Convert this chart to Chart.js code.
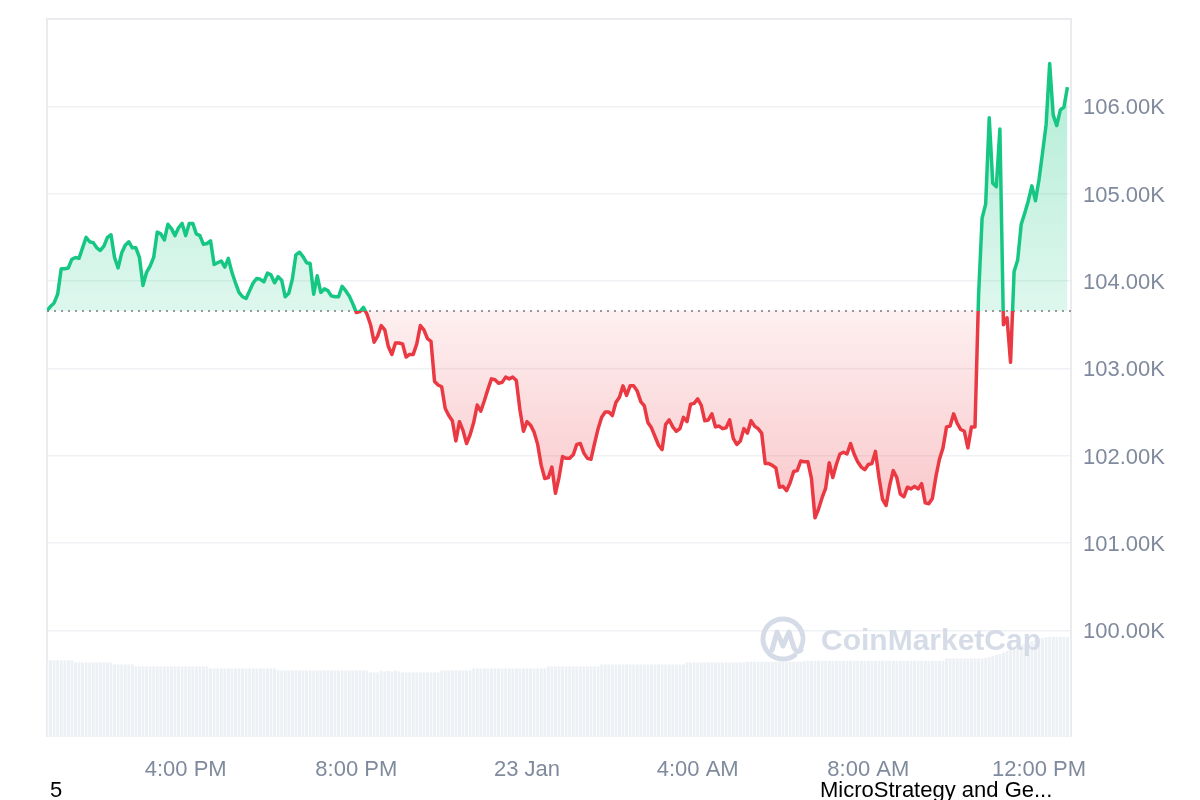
<!DOCTYPE html>
<html>
<head>
<meta charset="utf-8">
<script src="https://cdn.jsdelivr.net/npm/chart.js@4.4.1/dist/chart.umd.min.js"></script>
<style>
  html, body { margin: 0; padding: 0; background: #fff; }
  #wrap { position: relative; width: 1200px; height: 800px; }
</style>
</head>
<body>
<div id="wrap"><canvas id="chart" width="1200" height="800"></canvas></div>
<script>
// 24h of 5-minute points, starting 12:45 PM on 22 Jan (minutes since midnight 22 Jan)
const startMinute = 765;
const stepMinutes = 5;

// BTC price, thousands of USD
const priceK = [
  103.66, 103.71, 103.75, 103.85, 104.14, 104.14, 104.15, 104.25, 104.27, 104.26, 104.38, 104.50,
  104.45, 104.44, 104.38, 104.35, 104.40, 104.50, 104.53, 104.27, 104.15, 104.32, 104.41, 104.45,
  104.38, 104.38, 104.27, 103.95, 104.10, 104.17, 104.27, 104.56, 104.54, 104.47, 104.65, 104.60,
  104.52, 104.61, 104.66, 104.52, 104.66, 104.66, 104.54, 104.52, 104.42, 104.43, 104.46, 104.19,
  104.21, 104.23, 104.16, 104.26, 104.10, 103.98, 103.87, 103.82, 103.80, 103.89, 103.98, 104.03,
  104.02, 103.99, 104.09, 104.07, 103.98, 104.05, 104.01, 103.82, 103.86, 104.02, 104.30, 104.33,
  104.28, 104.21, 104.20, 103.85, 104.06, 103.87, 103.91, 103.89, 103.83, 103.82, 103.82, 103.94,
  103.89, 103.83, 103.74, 103.64, 103.65, 103.70, 103.62, 103.50, 103.30, 103.37, 103.49, 103.44,
  103.25, 103.16, 103.29, 103.29, 103.28, 103.13, 103.16, 103.16, 103.28, 103.49, 103.44, 103.34,
  103.31, 102.85, 102.81, 102.79, 102.54, 102.46, 102.40, 102.17, 102.39, 102.29, 102.14, 102.24,
  102.38, 102.58, 102.51, 102.63, 102.76, 102.88, 102.87, 102.83, 102.84, 102.90, 102.88, 102.90,
  102.86, 102.53, 102.28, 102.39, 102.35, 102.27, 102.13, 101.89, 101.74, 101.75, 101.87, 101.57,
  101.75, 101.99, 101.97, 101.97, 102.01, 102.13, 102.14, 102.03, 101.97, 101.96, 102.14, 102.31,
  102.44, 102.50, 102.50, 102.46, 102.61, 102.67, 102.80, 102.69, 102.80, 102.80, 102.74, 102.62,
  102.57, 102.38, 102.32, 102.22, 102.12, 102.07, 102.36, 102.41, 102.33, 102.28, 102.31, 102.44,
  102.39, 102.59, 102.60, 102.65, 102.58, 102.40, 102.41, 102.48, 102.33, 102.34, 102.31, 102.32,
  102.41, 102.20, 102.13, 102.17, 102.31, 102.26, 102.40, 102.34, 102.31, 102.26, 101.91, 101.91,
  101.89, 101.86, 101.64, 101.65, 101.60, 101.69, 101.82, 101.83, 101.94, 101.93, 101.93, 101.74,
  101.29, 101.39, 101.52, 101.63, 101.92, 101.75, 101.90, 102.02, 102.04, 102.02, 102.14, 102.02,
  101.93, 101.87, 101.84, 101.90, 101.91, 102.05, 101.75, 101.50, 101.43, 101.66, 101.83, 101.75,
  101.56, 101.53, 101.64, 101.62, 101.65, 101.62, 101.68, 101.46, 101.45, 101.51, 101.76, 101.96,
  102.09, 102.33, 102.34, 102.48, 102.37, 102.30, 102.28, 102.09, 102.33, 102.33, 103.83, 104.72,
  104.88, 105.87, 105.12, 105.08, 105.74, 103.50, 103.58, 103.07, 104.11, 104.24, 104.65, 104.78,
  104.92, 105.09, 104.92, 105.16, 105.47, 105.79, 106.49, 105.90, 105.78, 105.96, 105.99, 106.22
];

// 24h volume, billions of USD
const volumeB = [
  59.8, 59.8, 59.8, 59.8, 59.8, 59.8, 59.8, 59.8, 58.2, 58.2, 58.2, 58.2,
  58.2, 58.2, 58.2, 58.2, 58.2, 58.2, 58.2, 56.6, 56.6, 56.6, 56.6, 56.6,
  56.6, 55.1, 55.1, 55.1, 55.1, 55.1, 55.1, 55.1, 55.1, 55.1, 55.1, 55.1,
  55.1, 55.1, 55.1, 55.1, 55.1, 55.1, 55.1, 55.1, 55.1, 55.1, 53.5, 53.5,
  53.5, 53.5, 53.5, 53.5, 53.5, 53.5, 53.5, 53.5, 53.5, 53.5, 53.5, 53.5,
  53.5, 53.5, 53.5, 53.5, 53.5, 52.0, 52.0, 52.0, 52.0, 52.0, 52.0, 52.0,
  52.0, 52.0, 52.0, 52.0, 52.0, 52.0, 52.0, 52.0, 52.0, 52.0, 52.0, 52.0,
  52.0, 52.0, 52.0, 52.0, 52.0, 52.0, 52.0, 50.4, 50.4, 50.4, 51.6, 51.2,
  51.7, 51.0, 51.8, 51.3, 50.4, 50.4, 50.4, 50.4, 50.4, 50.4, 50.4, 50.4,
  50.4, 50.4, 50.4, 52.0, 52.0, 52.0, 52.0, 52.0, 52.0, 52.0, 52.0, 52.0,
  53.5, 53.5, 53.5, 53.5, 53.5, 53.5, 53.5, 53.5, 53.5, 53.5, 53.5, 53.5,
  53.5, 53.5, 53.5, 53.5, 53.5, 53.5, 53.5, 53.5, 53.5, 55.1, 55.1, 55.1,
  55.1, 55.1, 55.1, 55.1, 55.1, 55.1, 55.1, 55.1, 55.1, 55.1, 55.1, 55.1,
  56.6, 56.6, 56.6, 56.6, 56.6, 56.6, 56.6, 56.6, 56.6, 56.6, 56.6, 56.6,
  56.6, 56.6, 56.6, 56.6, 56.6, 56.6, 56.6, 56.6, 56.6, 56.6, 56.6, 56.6,
  58.2, 58.2, 58.2, 58.2, 58.2, 58.2, 58.2, 58.2, 58.2, 58.2, 58.2, 58.2,
  58.2, 58.2, 58.2, 58.2, 58.2, 58.7, 58.7, 58.7, 58.7, 58.7, 58.7, 58.7,
  58.7, 58.7, 58.7, 58.7, 58.7, 58.7, 58.7, 58.7, 58.7, 59.4, 59.4, 59.4,
  59.4, 59.4, 59.4, 59.4, 59.4, 59.4, 59.4, 59.4, 59.4, 59.4, 59.4, 59.4,
  59.4, 59.4, 59.4, 59.4, 59.4, 59.4, 59.4, 59.4, 59.4, 59.4, 59.4, 59.4,
  59.4, 59.4, 59.4, 59.4, 59.4, 59.4, 59.4, 59.4, 59.4, 59.4, 59.4, 59.4,
  59.4, 61.3, 61.3, 61.3, 61.3, 61.3, 61.3, 61.3, 61.3, 61.3, 61.3, 61.3,
  61.8, 62.4, 63.0, 63.9, 64.8, 65.8, 66.9, 68.0, 69.2, 70.4, 71.6, 72.8,
  73.9, 75.0, 75.9, 76.7, 77.3, 77.8, 78.1, 78.1, 78.1, 78.1, 78.1, 78.1
];

const tickMinutes = [960, 1200, 1440, 1680, 1920, 2160];
const tickLabels = ['4:00 PM', '8:00 PM', '23 Jan', '4:00 AM', '8:00 AM', '12:00 PM'];
const priceTicks = [100, 101, 102, 103, 104, 105, 106];
const newsLabels = ['5', 'MicroStrategy and Ge...'];

const GREEN = '#16c784';
const RED = '#ea3943';
const FONT = '"Liberation Sans", Arial, sans-serif';
const basePrice = priceK[0];

function baseFrac(chart) {
  const a = chart.chartArea;
  return (chart.scales.y.getPixelForValue(basePrice) - a.top) / (a.bottom - a.top);
}

function lineColor(c) {
  const chart = c.chart;
  const a = chart.chartArea;
  if (!a) return GREEN;
  const f = baseFrac(chart);
  const g = chart.ctx.createLinearGradient(0, a.top, 0, a.bottom);
  g.addColorStop(0, GREEN);
  g.addColorStop(f, GREEN);
  g.addColorStop(f, RED);
  g.addColorStop(1, RED);
  return g;
}

function areaColor(c) {
  const chart = c.chart;
  const a = chart.chartArea;
  if (!a) return 'rgba(22,199,132,0.15)';
  const f = baseFrac(chart);
  const g = chart.ctx.createLinearGradient(0, a.top, 0, a.bottom);
  g.addColorStop(0, 'rgba(22,199,132,0.36)');
  g.addColorStop(f, 'rgba(22,199,132,0.14)');
  g.addColorStop(f, 'rgba(234,57,67,0.08)');
  g.addColorStop(1, 'rgba(234,57,67,0.50)');
  return g;
}

const decor = {
  id: 'decor',
  beforeDatasetsDraw(chart) {
    const { ctx, chartArea: a, scales } = chart;
    ctx.save();
    ctx.strokeStyle = '#e9ebee';
    ctx.lineWidth = 2;
    ctx.beginPath();
    ctx.moveTo(a.left, a.bottom);
    ctx.lineTo(a.left, a.top);
    ctx.lineTo(a.right, a.top);
    ctx.lineTo(a.right, a.bottom);
    ctx.stroke();

    // reference line at the opening price
    const y = Math.round(scales.y.getPixelForValue(basePrice));
    ctx.strokeStyle = '#999';
    ctx.lineWidth = 2;
    ctx.setLineDash([2, 5]);
    ctx.beginPath();
    ctx.moveTo(a.left, y);
    ctx.lineTo(a.right, y);
    ctx.stroke();
    ctx.restore();
  },
  afterDatasetsDraw(chart) {
    const ctx = chart.ctx;
    ctx.save();
    // watermark
    ctx.strokeStyle = '#d6dce7';
    ctx.fillStyle = '#d6dce7';
    ctx.lineWidth = 5;
    ctx.lineCap = 'round';
    ctx.lineJoin = 'round';
    ctx.beginPath();
    ctx.arc(783, 639, 20, Math.PI * 0.3, Math.PI * 2.15);
    ctx.stroke();
    ctx.beginPath();
    ctx.moveTo(772, 650);
    ctx.lineTo(777, 632);
    ctx.lineTo(783, 646);
    ctx.lineTo(789, 632);
    ctx.lineTo(794, 648);
    ctx.quadraticCurveTo(797, 654, 801, 650);
    ctx.stroke();
    ctx.font = 'bold 30px ' + FONT;
    ctx.textBaseline = 'alphabetic';
    ctx.fillText('CoinMarketCap', 821, 650);
    ctx.restore();
  },
  afterDraw(chart) {
    const ctx = chart.ctx;
    ctx.save();
    ctx.fillStyle = '#000';
    ctx.font = '22px ' + FONT;
    ctx.textBaseline = 'alphabetic';
    ctx.fillText(newsLabels[0], 50, 797);
    ctx.fillText(newsLabels[1], 820, 797);
    ctx.restore();
  }
};

new Chart(document.getElementById('chart'), {
  type: 'line',
  data: {
    datasets: [
      {
        label: 'Price',
        data: priceK.map((v, i) => ({ x: startMinute + i * stepMinutes, y: v })),
        yAxisID: 'y',
        borderColor: lineColor,
        backgroundColor: areaColor,
        fill: { value: basePrice },
        borderWidth: 3.5,
        borderJoinStyle: 'round',
        pointRadius: 0,
        tension: 0,
        order: 1
      },
      {
        type: 'bar',
        label: 'Volume',
        data: volumeB.map((v, i) => ({ x: startMinute + i * stepMinutes, y: v })),
        yAxisID: 'volume',
        backgroundColor: '#edf0f4',
        barPercentage: 1,
        categoryPercentage: 0.8,
        order: 2
      }
    ]
  },
  options: {
    responsive: false,
    animation: false,
    layout: { padding: { left: 47, top: 19, right: 0, bottom: 0 } },
    plugins: { legend: { display: false }, tooltip: { enabled: false } },
    scales: {
      x: {
        type: 'linear',
        min: 765,
        max: 2205,
        offset: false,
        afterBuildTicks: s => { s.ticks = tickMinutes.map(v => ({ value: v })); },
        afterFit: s => { s.height = 63; },
        grid: { display: false, offset: false },
        border: { display: false },
        ticks: {
          autoSkip: false,
          maxRotation: 0,
          padding: 12,
          color: '#808a9d',
          font: { size: 22, family: FONT },
          callback: v => tickLabels[tickMinutes.indexOf(v)]
        }
      },
      y: {
        position: 'right',
        min: 98.78,
        max: 107,
        afterBuildTicks: s => { s.ticks = priceTicks.map(v => ({ value: v })); },
        afterFit: s => { s.width = 129; },
        grid: { color: '#eff1f4', lineWidth: 1.5, drawTicks: true, tickLength: 7, tickColor: 'rgba(0,0,0,0)' },
        border: { display: false },
        ticks: {
          padding: 5,
          labelOffset: 2,
          color: '#808a9d',
          font: { size: 22, family: FONT },
          callback: v => v.toFixed(2) + 'K'
        }
      },
      volume: { display: false, min: 0, max: 560 }
    }
  },
  plugins: [decor]
});
</script>
</body>
</html>
